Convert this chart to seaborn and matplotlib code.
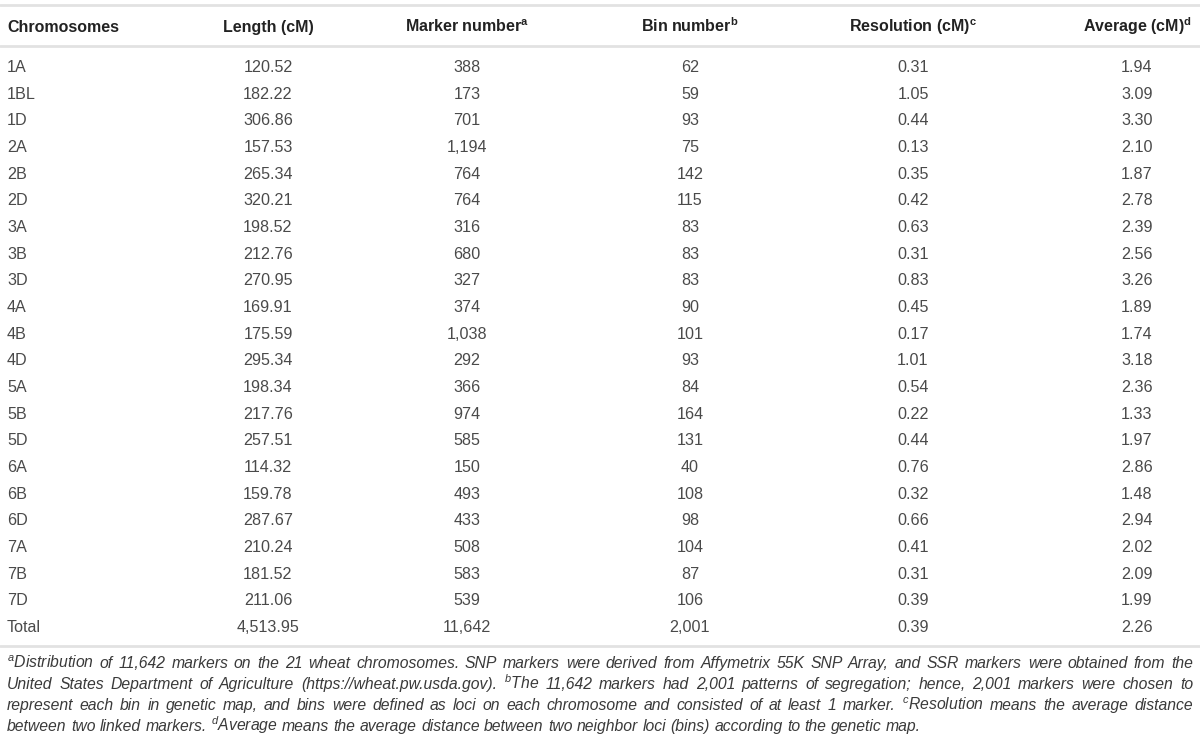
import matplotlib
matplotlib.use("Agg")
import matplotlib.pyplot as plt
import seaborn as sns
import pandas as pd

# %%
chromosomes = ["1A", "1BL", "1D", "2A", "2B", "2D", "3A", "3B", "3D", "4A", "4B",
               "4D", "5A", "5B", "5D", "6A", "6B", "6D", "7A", "7B", "7D", "Total"]
length_cm = [120.52, 182.22, 306.86, 157.53, 265.34, 320.21, 198.52, 212.76, 270.95,
             169.91, 175.59, 295.34, 198.34, 217.76, 257.51, 114.32, 159.78, 287.67,
             210.24, 181.52, 211.06, 4513.95]
marker_number = [388, 173, 701, 1194, 764, 764, 316, 680, 327, 374, 1038, 292, 366,
                 974, 585, 150, 493, 433, 508, 583, 539, 11642]
bin_number = [62, 59, 93, 75, 142, 115, 83, 83, 83, 90, 101, 93, 84, 164, 131, 40,
              108, 98, 104, 87, 106, 2001]
resolution_cm = [0.31, 1.05, 0.44, 0.13, 0.35, 0.42, 0.63, 0.31, 0.83, 0.45, 0.17,
                 1.01, 0.54, 0.22, 0.44, 0.76, 0.32, 0.66, 0.41, 0.31, 0.39, 0.39]
average_cm = [1.94, 3.09, 3.30, 2.10, 1.87, 2.78, 2.39, 2.56, 3.26, 1.89, 1.74, 3.18,
              2.36, 1.33, 1.97, 2.86, 1.48, 2.94, 2.02, 2.09, 1.99, 2.26]

headers = ["Chromosomes", "Length (cM)", "Marker number", "Bin number",
           "Resolution (cM)", "Average (cM)"]
header_sups = ["", "", "a", "b", "c", "d"]

footnote_lines = [
    "^aDistribution of 11,642 markers on the 21 wheat chromosomes. SNP markers were derived from Affymetrix 55K SNP Array, and SSR markers were obtained from the",
    "United States Department of Agriculture (https://wheat.pw.usda.gov). ^bThe 11,642 markers had 2,001 patterns of segregation; hence, 2,001 markers were chosen to",
    "represent each bin in genetic map, and bins were defined as loci on each chromosome and consisted of at least 1 marker. ^cResolution means the average distance",
    "between two linked markers. ^dAverage means the average distance between two neighbor loci (bins) according to the genetic map.",
]

df = pd.DataFrame({
    "Chromosomes": chromosomes,
    "Length (cM)": [f"{v:,.2f}" for v in length_cm],
    "Marker number": [f"{v:,}" for v in marker_number],
    "Bin number": [f"{v:,}" for v in bin_number],
    "Resolution (cM)": [f"{v:.2f}" for v in resolution_cm],
    "Average (cM)": [f"{v:.2f}" for v in average_cm],
})

# %%
sns.set_theme(style="white")
plt.rcParams["font.family"] = ["Liberation Sans", "DejaVu Sans"]
plt.rcParams["mathtext.fontset"] = "custom"
plt.rcParams["mathtext.rm"] = "Liberation Sans"
plt.rcParams["mathtext.it"] = "Liberation Sans:italic"
plt.rcParams["mathtext.bf"] = "Liberation Sans:bold"

fig = plt.figure(figsize=(12, 7.42), dpi=100)
ax = fig.add_axes([0, 0, 1, 1])
ax.set_xlim(0, 1200)
ax.set_ylim(742, 0)
ax.axis("off")

col_x = [7, 268, 467, 690, 913, 1137]
col_ha = ["left", "center", "center", "center", "center", "center"]
line_color = "#e2e2e2"

# rules
for y in [5, 46, 646]:
    ax.axhline(y, color=line_color, lw=2)

# header
for x, ha, h, s in zip(col_x, col_ha, headers, header_sups):
    label = h + (r"$^{\mathbf{" + s + "}}$" if s else "")
    ax.text(x, 32, label, ha=ha, va="baseline", fontsize=11.5,
            fontweight="bold", color="#222222")

# body rows
row_y0, row_step = 72, 26.67
for i, row in df.iterrows():
    y = row_y0 + i * row_step
    for x, ha, col in zip(col_x, col_ha, df.columns):
        ax.text(x, y, row[col], ha=ha, va="baseline", fontsize=11.6,
                color="#4a4a4a")

# footnotes, justified word by word
renderer = fig.canvas.get_renderer()
foot_kw = dict(fontsize=11.3, fontstyle="italic", color="#3a3a3a", va="baseline")


def word_label(w):
    if w.startswith("^"):
        return r"$^{\mathit{" + w[1] + "}}$" + w[2:]
    return w


def text_width(s):
    t = ax.text(0, 0, s, **foot_kw)
    w = t.get_window_extent(renderer).width
    t.remove()
    return w


space_w = text_width("a a") - text_width("aa")
x0, x1 = 7, 1193
for k, line in enumerate(footnote_lines):
    y = 668 + k * 21
    words = [word_label(w) for w in line.split(" ")]
    texts = [ax.text(0, y, w, ha="left", **foot_kw) for w in words]
    widths = [t.get_window_extent(renderer).width for t in texts]
    if k == len(footnote_lines) - 1:
        gap = space_w
    else:
        gap = (x1 - x0 - sum(widths)) / (len(words) - 1)
    x = x0
    for t, w in zip(texts, widths):
        t.set_x(x)
        x += w + gap

fig.savefig("out.png", dpi=100)
